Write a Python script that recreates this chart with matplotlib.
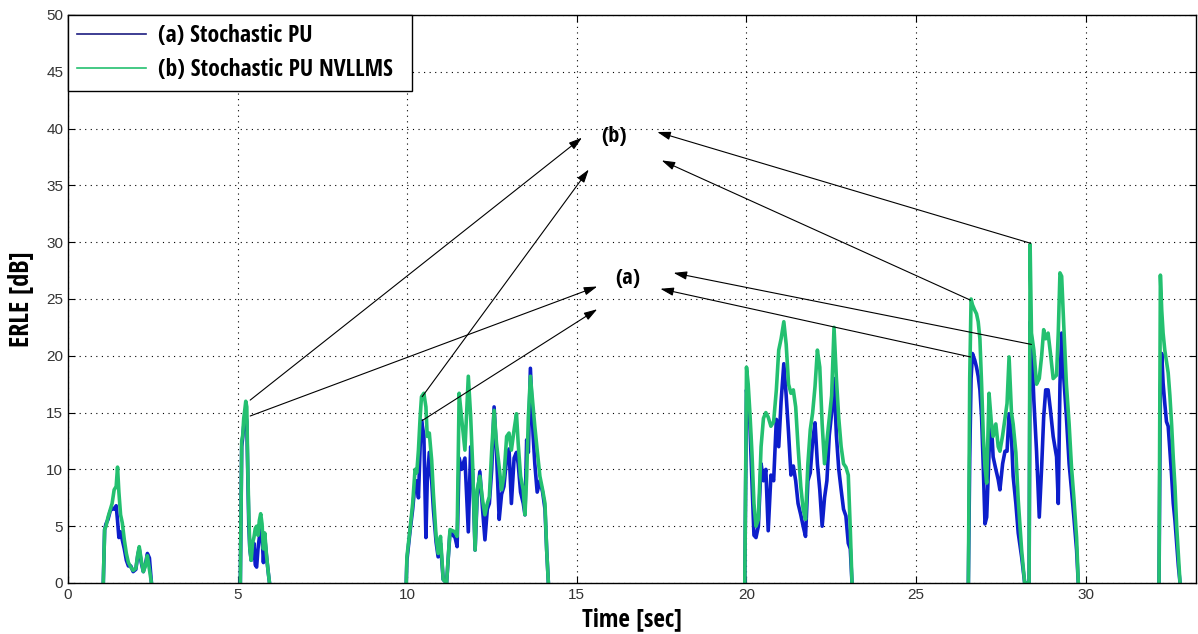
import numpy as np
import matplotlib
matplotlib.use("Agg")
import matplotlib.pyplot as plt
from matplotlib.lines import Line2D

# ERLE traces, one block of samples per speech burst
seg1_t = [1.04, 1.08, 1.12, 1.18, 1.24, 1.30, 1.36, 1.42, 1.46, 1.50, 1.55, 1.60, 1.66,
          1.72, 1.78, 1.85, 1.92, 2.00, 2.06, 2.10, 2.16, 2.22, 2.28, 2.34, 2.40, 2.46]
seg1_pu = [0, 4.7, 5.2, 5.6, 6.3, 6.6, 6.5, 6.8, 5.5, 4.0, 4.5, 3.8, 3.0,
           2.0, 1.5, 1.5, 1.0, 1.2, 2.5, 3.0, 1.8, 1.0, 1.6, 2.6, 2.2, 0]
seg1_nv = [0, 4.7, 5.0, 5.8, 6.4, 7.0, 8.2, 8.5, 10.2, 8.0, 6.0, 5.3, 3.8,
           2.6, 1.8, 1.4, 1.1, 1.3, 2.6, 3.2, 2.0, 1.0, 1.5, 2.4, 1.2, 0]

seg2_t = [5.08, 5.12, 5.15, 5.18, 5.21, 5.24, 5.27, 5.30, 5.33, 5.36, 5.40, 5.44,
          5.48, 5.52, 5.56, 5.60, 5.64, 5.68, 5.72, 5.76, 5.80, 5.85, 5.90, 5.94]
seg2_pu = [0, 12.0, 12.8, 13.8, 14.3, 14.8, 14.2, 9.5, 5.0, 3.0, 2.0, 3.0,
           3.5, 1.6, 1.4, 3.0, 4.0, 5.0, 4.2, 1.8, 4.0, 2.4, 1.0, 0]
seg2_nv = [0, 12.5, 13.0, 14.5, 15.2, 16.0, 15.5, 10.0, 6.0, 3.0, 2.0, 3.5,
           4.0, 4.8, 5.0, 4.2, 5.5, 6.1, 5.2, 3.0, 4.4, 2.5, 1.0, 0]

seg3_t = [9.97, 9.99, 10.08, 10.16, 10.23, 10.28, 10.33, 10.38, 10.42, 10.49, 10.55, 10.59,
          10.65, 10.72, 10.77, 10.85, 10.91, 10.98, 11.06, 11.16, 11.26, 11.41, 11.47, 11.53,
          11.60, 11.70, 11.80, 11.87, 11.93, 12.00, 12.06, 12.14, 12.22, 12.29, 12.36, 12.42,
          12.49, 12.56, 12.63, 12.71, 12.78, 12.85, 12.93, 13.00, 13.07, 13.15, 13.22, 13.27,
          13.34, 13.42, 13.47, 13.52, 13.57, 13.63, 13.71, 13.76, 13.83, 13.91, 13.99, 14.06,
          14.11, 14.16]
seg3_pu = [0, 2.0, 4.5, 6.5, 8.8, 9.0, 7.5, 12.0, 14.3, 13.0, 4.0, 9.0,
           11.5, 9.0, 6.5, 3.6, 2.3, 3.5, 0.3, 0, 4.5, 4.0, 3.2, 11.0,
           10.0, 11.0, 4.5, 12.0, 9.5, 2.9, 7.5, 9.8, 6.5, 3.8, 6.5, 7.0,
           10.0, 15.5, 11.5, 5.6, 7.8, 8.5, 11.0, 11.8, 7.0, 11.0, 11.5, 10.5,
           8.0, 7.0, 6.0, 12.6, 11.5, 18.9, 13.0, 10.5, 8.0, 9.0, 8.0, 6.5,
           2.9, 0]
seg3_nv = [0, 2.3, 4.7, 7.0, 10.0, 9.7, 11.7, 14.6, 16.4, 16.7, 15.5, 12.9,
           13.2, 10.8, 7.9, 4.1, 2.6, 4.1, 0.3, 0, 4.7, 4.5, 4.1, 16.7,
           14.6, 11.7, 18.2, 14.6, 10.2, 2.9, 8.2, 9.4, 7.3, 6.0, 7.0, 7.6,
           11.7, 15.2, 12.3, 10.2, 8.2, 9.4, 12.9, 13.2, 11.7, 13.5, 14.9, 12.3,
           9.4, 8.2, 6.0, 9.4, 14.6, 18.2, 15.5, 13.8, 11.7, 9.4, 8.2, 7.0,
           2.9, 0]

seg4_t = [19.95, 20.00, 20.05, 20.10, 20.16, 20.22, 20.28, 20.35, 20.43, 20.50, 20.57, 20.64,
          20.72, 20.80, 20.88, 20.95, 21.02, 21.10, 21.17, 21.24, 21.31, 21.38, 21.45, 21.52,
          21.60, 21.67, 21.74, 21.81, 21.88, 21.95, 22.02, 22.09, 22.16, 22.23, 22.30, 22.37,
          22.44, 22.51, 22.58, 22.65, 22.72, 22.79, 22.86, 22.93, 23.00, 23.06, 23.11]
seg4_pu = [0, 17.0, 15.5, 14.0, 9.0, 4.2, 4.0, 5.0, 10.5, 9.0, 10.0, 4.6,
           9.5, 9.0, 14.4, 12.0, 16.0, 19.3, 16.5, 13.2, 9.5, 10.3, 9.0, 7.0,
           6.0, 5.0, 4.1, 9.0, 9.7, 12.5, 14.1, 10.5, 8.2, 5.0, 7.5, 9.0,
           13.0, 15.0, 18.0, 13.0, 10.0, 8.2, 6.5, 5.9, 3.5, 3.0, 0]
seg4_nv = [0, 19.0, 17.5, 15.0, 11.5, 7.0, 5.0, 5.6, 12.0, 14.5, 15.0, 14.6,
           13.8, 14.2, 17.0, 20.5, 21.5, 23.0, 21.0, 17.5, 16.7, 17.0, 15.5, 12.0,
           8.5, 6.5, 5.6, 10.5, 13.5, 15.0, 17.3, 20.5, 19.0, 14.0, 10.5, 12.5,
           14.5, 16.5, 22.5, 18.0, 14.5, 12.0, 10.5, 10.2, 9.5, 4.7, 0]

seg5_t = [26.54, 26.58, 26.62, 26.66, 26.73, 26.78, 26.83, 26.88, 26.93, 26.98, 27.03, 27.08,
          27.15, 27.22, 27.27, 27.35, 27.42, 27.47, 27.55, 27.62, 27.68, 27.74, 27.81, 27.86,
          27.94, 28.01, 28.11, 28.20, 28.33, 28.36, 28.40, 28.47, 28.55, 28.63, 28.70, 28.76,
          28.82, 28.89, 28.96, 29.04, 29.14, 29.19, 29.24, 29.29, 29.35, 29.43, 29.51, 29.58,
          29.65, 29.73, 29.78]
seg5_pu = [0, 11.0, 18.0, 20.2, 19.6, 19.0, 18.2, 17.0, 14.6, 10.2, 5.2, 5.8,
           11.5, 14.0, 11.1, 10.0, 9.1, 8.2, 10.5, 11.6, 11.6, 14.9, 12.9, 9.4,
           7.0, 4.4, 2.3, 0, 0, 23.0, 21.4, 16.1, 11.6, 5.8, 10.2, 14.6,
           17.0, 17.0, 15.2, 12.9, 11.1, 7.0, 17.5, 22.0, 18.2, 14.6, 10.5, 8.2,
           5.8, 2.9, 0]
seg5_nv = [0, 18.0, 25.0, 24.5, 24.0, 23.7, 23.0, 21.5, 17.5, 13.0, 10.2, 8.8,
           16.7, 14.0, 12.9, 14.0, 12.0, 11.6, 13.0, 14.5, 15.8, 19.9, 15.0, 14.0,
           11.5, 7.3, 2.9, 0, 0, 29.8, 22.0, 20.5, 17.5, 18.0, 20.0, 22.3,
           21.5, 22.0, 20.2, 18.0, 18.3, 22.0, 27.3, 27.0, 22.8, 17.5, 14.0, 10.2,
           7.5, 4.0, 0]

seg6_t = [32.16, 32.20, 32.24, 32.28, 32.33, 32.38, 32.43, 32.48, 32.53, 32.58, 32.63,
          32.68, 32.73, 32.78]
seg6_pu = [0, 17.0, 20.2, 17.6, 15.8, 14.2, 13.8, 11.7, 9.5, 7.0, 5.5, 3.5, 1.5, 0]
seg6_nv = [0, 27.1, 24.0, 22.0, 20.5, 19.5, 18.5, 16.5, 14.0, 11.0, 8.5, 5.0, 2.5, 0]

segments = [(seg1_t, seg1_pu, seg1_nv), (seg2_t, seg2_pu, seg2_nv), (seg3_t, seg3_pu, seg3_nv),
            (seg4_t, seg4_pu, seg4_nv), (seg5_t, seg5_pu, seg5_nv), (seg6_t, seg6_pu, seg6_nv)]

# annotation arrows: (tail point on curve, head near the label)
arrows_b = [((5.37, 16.1), (15.15, 39.2)), ((10.44, 16.4), (15.35, 36.4)),
            ((28.38, 29.9), (17.37, 39.7)), ((26.6, 24.9), (17.5, 37.2))]
arrows_a = [((5.37, 14.7), (15.6, 26.1)), ((10.44, 14.3), (15.6, 24.1)),
            ((28.4, 21.0), (17.85, 27.3)), ((26.6, 19.9), (17.46, 25.9))]

blue = "#0d1ecb"
green = "#24c070"
label_font = dict(family=["Open Sans Condensed", "Roboto Condensed", "Liberation Sans Narrow",
                          "Roboto", "DejaVu Sans"],
                  weight="bold", stretch="condensed")

fig = plt.figure(figsize=(11.98, 6.34), dpi=100)
ax = fig.add_axes([68 / 1198, 51 / 634, 1128 / 1198, 568 / 634])

for t, pu, nv in segments:
    ax.plot(t, pu, color=blue, lw=2.6)
for t, pu, nv in segments:
    ax.plot(t, nv, color=green, lw=2.6)

for tail, head in arrows_b + arrows_a:
    ax.annotate("", xy=head, xytext=tail,
                arrowprops=dict(arrowstyle="-|>,head_length=0.8,head_width=0.25",
                                color="black", lw=0.8, shrinkA=0, shrinkB=0))
ax.text(16.1, 39.3, "(b)", fontsize=16, ha="center", va="center", **label_font)
ax.text(16.5, 26.8, "(a)", fontsize=16, ha="center", va="center", **label_font)

ax.set_xlim(0, 33.25)
ax.set_ylim(0, 50)
ax.set_xticks(np.arange(0, 31, 5))
ax.set_yticks(np.arange(0, 51, 5))
ax.tick_params(direction="in", length=5, top=True, right=True, labelsize=11,
               labelcolor="#333333", width=0.8)
for lab in ax.get_xticklabels() + ax.get_yticklabels():
    lab.set_fontfamily(["Liberation Sans", "DejaVu Sans"])
ax.grid(True, color="black", linestyle=(0, (1, 4)), linewidth=0.8)
for s in ax.spines.values():
    s.set_linewidth(1.0)

ax.set_xlabel("Time [sec]", fontsize=18, labelpad=4, **label_font)
ax.set_ylabel("ERLE [dB]", fontsize=19, labelpad=8, **label_font)

handles = [Line2D([], [], color="#1c1c80", lw=1.2), Line2D([], [], color=green, lw=1.2)]
leg = ax.legend(handles, ["(a) Stochastic PU", "(b) Stochastic PU NVLLMS"],
                loc="upper left", bbox_to_anchor=(0, 0, 344 / 1128, 1), mode="expand",
                borderaxespad=0, fancybox=False, framealpha=1,
                edgecolor="black", handlelength=2.9, handletextpad=0.5, borderpad=0.4,
                labelspacing=0.4, prop=dict(size=17, **label_font))
leg.get_frame().set_linewidth(1.0)

fig.savefig("out.png", dpi=100)
